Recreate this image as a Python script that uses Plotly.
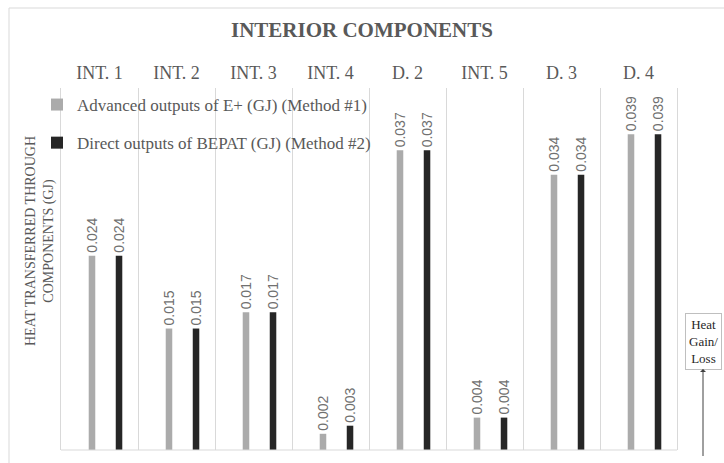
import plotly.graph_objects as go

categories = ["INT. 1", "INT. 2", "INT. 3", "INT. 4", "D. 2", "INT. 5", "D. 3", "D. 4"]
method1 = [0.024, 0.015, 0.017, 0.002, 0.037, 0.004, 0.034, 0.039]
method2 = [0.024, 0.015, 0.017, 0.003, 0.037, 0.004, 0.034, 0.039]
series_names = ["Advanced outputs of E+ (GJ) (Method #1)",
                "Direct outputs of BEPAT (GJ) (Method #2)"]

W, H = 724, 463
L, R, T, B = 61, 47, 88, 13
pw, ph = W - L - R, H - T - B

def px_x(p):
    return (p - L) / pw

def px_y(p):
    return (H - B - p) / ph

serif = "Liberation Serif, Times New Roman, serif"
sans = "Liberation Sans, Arial, sans-serif"
txt = "#595959"

fig = go.Figure()
fig.add_trace(go.Bar(
    x=categories, y=method1, name=series_names[0],
    marker=dict(color="#ababab", line=dict(width=0)),
    width=0.085, offset=-0.14,
    text=[f"{v:.3f}" for v in method1], textposition="outside",
    textangle=-90, constraintext="none", cliponaxis=False,
    textfont=dict(family=sans, size=14, color="#707070"),
    legendgroup="a",
))
fig.add_trace(go.Bar(
    x=categories, y=method2, name=series_names[1],
    marker=dict(color="#262626", line=dict(width=0)),
    width=0.085, offset=0.211,
    text=[f"{v:.3f}" for v in method2], textposition="outside",
    textangle=-90, constraintext="none", cliponaxis=False,
    textfont=dict(family=sans, size=14, color="#707070"),
    legendgroup="b",
))

fig.update_layout(
    width=W, height=H,
    margin=dict(l=L, r=R, t=T, b=B),
    paper_bgcolor="white", plot_bgcolor="white",
    barmode="overlay",
    title=dict(text="<b>INTERIOR COMPONENTS</b>", x=0.5, xanchor="center",
               y=1 - 30 / H, yanchor="middle",
               font=dict(family=serif, size=21, color=txt)),
    font=dict(family=serif, color=txt),
    showlegend=True,
    legend=dict(x=px_x(37), xanchor="left", y=px_y(87), yanchor="top",
                bgcolor="rgba(0,0,0,0)", tracegroupgap=13,
                font=dict(family=serif, size=17, color=txt)),
    xaxis=dict(side="top", type="category", range=[-0.5, 7.5],
               tickson="boundaries", showgrid=True, gridcolor="#d9d9d9",
               gridwidth=1, ticks="", showline=False, zeroline=False,
               tickfont=dict(family=serif, size=18, color=txt),
               ticklabelstandoff=4),
    yaxis=dict(range=[0, 0.0447], showticklabels=False, showgrid=False,
               zeroline=False, showline=True, mirror=True, linecolor="#d9d9d9",
               linewidth=1, ticks=""),
    shapes=[
        dict(type="line", xref="paper", yref="paper", x0=0, x1=1, y0=0, y1=0,
             line=dict(color="#d9d9d9", width=1)),
        dict(type="rect", xref="paper", yref="paper",
             x0=px_x(9), x1=px_x(760), y0=px_y(8), y1=px_y(500),
             line=dict(color="#d9d9d9", width=1), fillcolor="rgba(0,0,0,0)"),
    ],
    annotations=[
        dict(text="HEAT TRANSFERRED THROUGH<br>COMPONENTS (GJ)", textangle=-90,
             xref="paper", yref="paper", x=px_x(40), y=px_y(241),
             xanchor="center", yanchor="middle", showarrow=False,
             font=dict(family=serif, size=14, color=txt)),
        dict(text="Heat<br>Gain/<br>Loss", xref="paper", yref="paper",
             x=px_x(703), y=px_y(456), ax=0, ay=-(456 - 341),
             showarrow=True, arrowside="start", arrowhead=2, arrowsize=1,
             arrowwidth=1, arrowcolor="#404040",
             bordercolor="#bfbfbf", borderwidth=1, borderpad=3,
             bgcolor="white",
             font=dict(family=serif, size=13, color="#262626")),
    ],
)

fig.write_html("out.html", config={"displayModeBar": False},
               post_script="document.body.style.margin='0';")
